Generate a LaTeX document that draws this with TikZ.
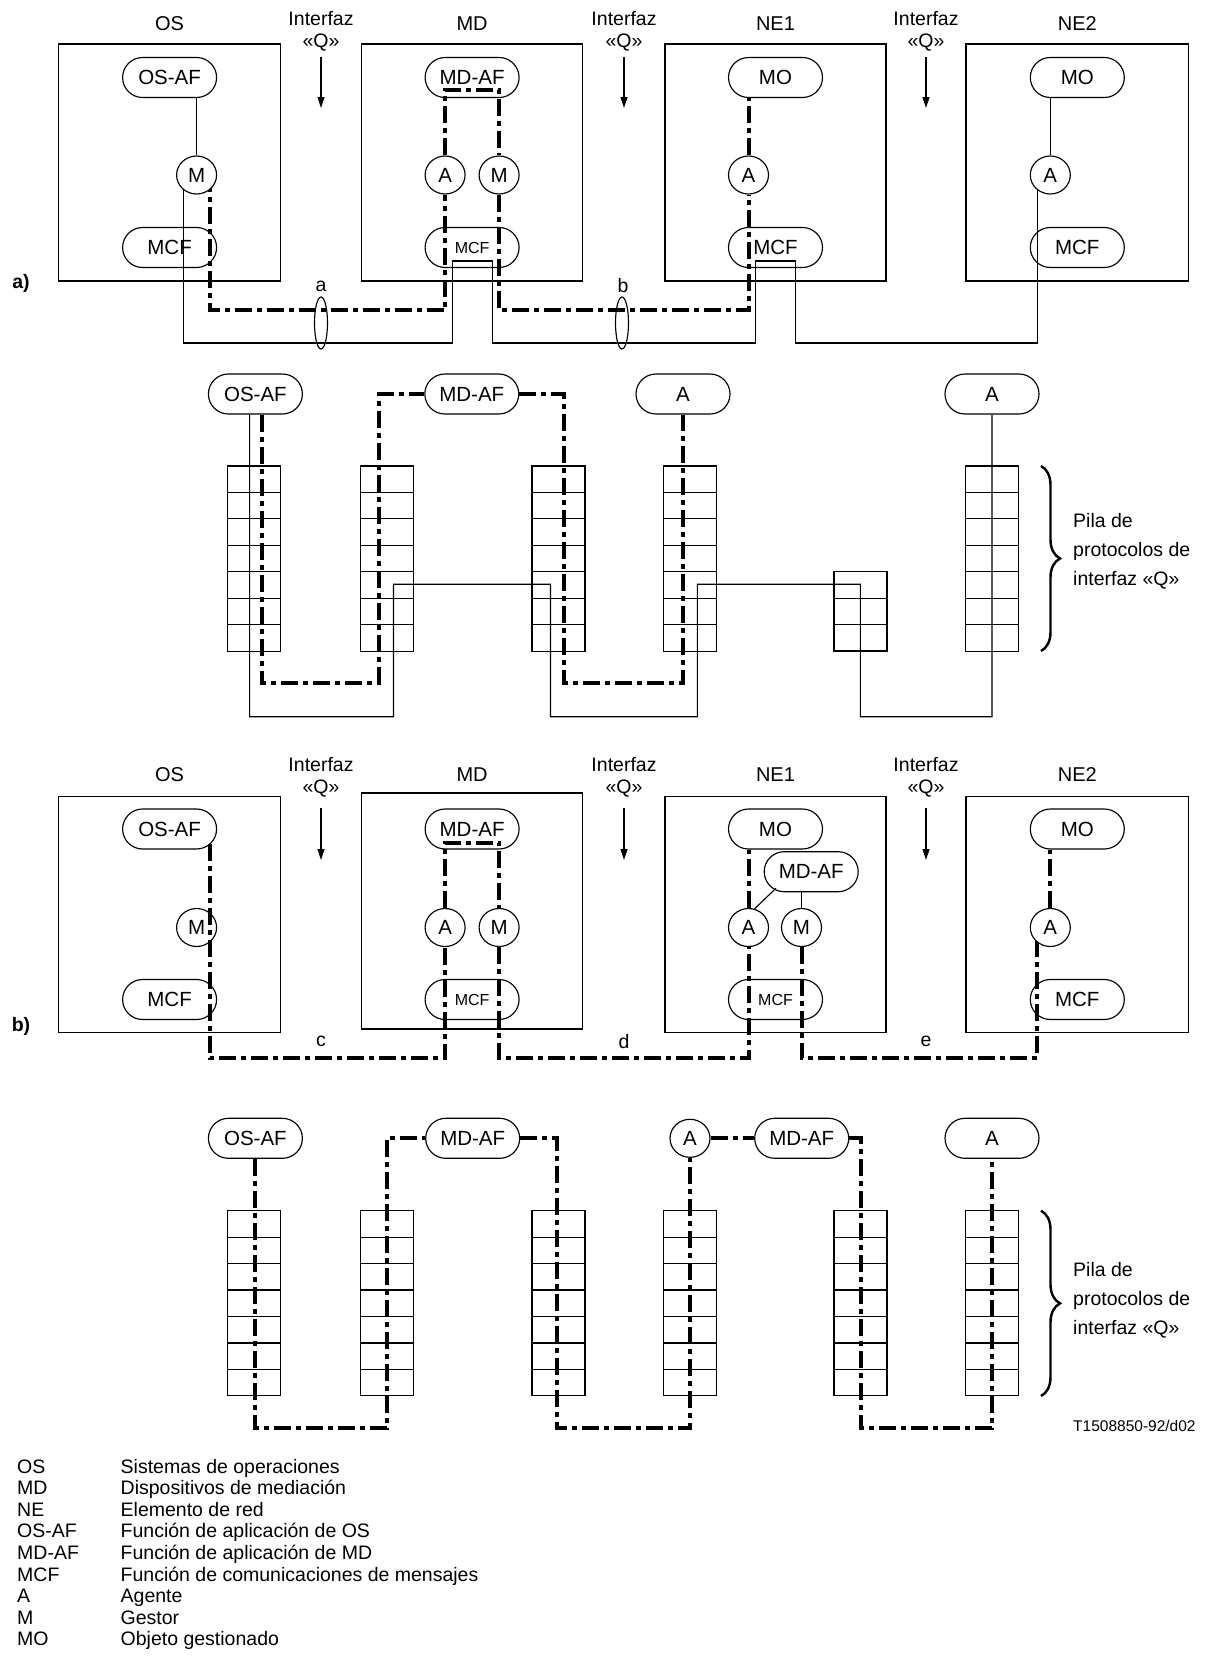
\documentclass[tikz,border=0pt]{standalone}
\usepackage{fontspec}
\setmainfont{Liberation Sans}
\usetikzlibrary{shapes.misc,shapes.geometric,backgrounds,calc,arrows.meta,decorations.pathreplacing}
\begin{document}
\begin{tikzpicture}[x=1pt,y=-1pt,
  every node/.style={font=\fontsize{19.5}{22}\selectfont},
  thinl/.style={line width=1.15pt},
  thickl/.style={line width=4pt, line join=miter, dash pattern=on 17pt off 5pt on 5pt off 5pt},
  pill/.style={rounded rectangle, draw, line width=1.15pt, minimum width=94pt, minimum height=40pt, inner sep=0pt, font=\fontsize{20.5}{22}\selectfont},
  circ/.style={ellipse, draw, line width=1.15pt, fill=white, minimum width=40pt, minimum height=38pt, inner sep=0pt, font=\fontsize{20.5}{22}\selectfont},
  smallf/.style={font=\fontsize{16}{18}\selectfont},
  arr/.style={line width=1.2pt, -{Triangle[length=11pt,width=7pt]}},
  iface/.style={align=center, font=\fontsize{19.5}{22}\selectfont},
  ttl/.style={font=\fontsize{20}{22}\selectfont},
  lbl/.style={anchor=base west, inner sep=0pt},
  bracel/.style={decorate, decoration={brace, amplitude=19pt, aspect=0.5}, line width=2.4pt},
]
\useasboundingbox (0,0) rectangle (1206,1670);

% ===================== a) top =====================
\draw[thinl] (58.5,44) rectangle (280.7,281);
\draw[thinl] (361.8,44) rectangle (582.4,281);
\draw[thinl] (665,44) rectangle (886,281);
\draw[thinl] (966,44) rectangle (1188.6,281);

\node[ttl] (tOSa) at (169.6,24) {OS};
\node[ttl] (tMDa) at (472.1,24) {MD};
\node[ttl] (tNE1a) at (775.5,24) {NE1};
\node[ttl] (tNE2a) at (1077.3,24) {NE2};

\node[iface] (ia1) at (321,31) {Interfaz\\«Q»};
\node[iface] (ia2) at (624,31) {Interfaz\\«Q»};
\node[iface] (ia3) at (926,31) {Interfaz\\«Q»};
\coordinate (qa1s) at (321,57); \coordinate (qa1e) at (321,108);
\coordinate (qa2s) at (624,57); \coordinate (qa2e) at (624,108);
\coordinate (qa3s) at (926,57); \coordinate (qa3e) at (926,108);
\draw[arr] (qa1s) -- (qa1e);
\draw[arr] (qa2s) -- (qa2e);
\draw[arr] (qa3s) -- (qa3e);

\node[pill] (OSAFa) at (169.6,77.5) {OS-AF};
\node[circ] (Ma) at (196.6,175) {M};
\node[pill] (MCFa1) at (169.6,247.5) {MCF};
\node[pill] (MDAFa) at (472.1,77.5) {MD-AF};
\node[circ] (MDAa) at (445.1,175) {A};
\node[circ] (MDMa) at (499.1,175) {M};
\node[pill,smallf] (MCFa2) at (472.1,247.5) {MCF};
\node[pill] (MOa1) at (775.5,77.5) {MO};
\node[circ] (NEAa1) at (748.5,175) {A};
\node[pill] (MCFa3) at (775.5,247.5) {MCF};
\node[pill] (MOa2) at (1077.3,77.5) {MO};
\node[circ] (NEAa2) at (1050.3,175) {A};
\node[pill] (MCFa4) at (1077.3,247.5) {MCF};

\node[font=\fontsize{19.5}{22}\selectfont\bfseries] (labA) at (21,283) {a)};
\node (la) at (321,286) {a};
\node (lb) at (623,286) {b};
\draw[thinl] (321,323) ellipse [x radius=6.5pt, y radius=26pt];
\draw[thinl] (622,323) ellipse [x radius=6.5pt, y radius=26pt];

% ===================== a) stacks =====================
\node[pill] (OSAFs) at (255.4,394) {OS-AF};
\node[pill] (MDAFs) at (471.8,394) {MD-AF};
\node[pill] (As1) at (683,394) {A};
\node[pill] (As2) at (992,394) {A};

% ===================== b) top =====================
\draw[thinl] (58.5,796.7) rectangle (280.7,1032.7);
\draw[thinl] (361.8,793) rectangle (582.4,1029);
\draw[thinl] (665,796.7) rectangle (886,1032.7);
\draw[thinl] (966,796.7) rectangle (1188.6,1032.7);

\node[ttl] (tOSb) at (169.6,775) {OS};
\node[ttl] (tMDb) at (472.1,775) {MD};
\node[ttl] (tNE1b) at (775.5,775) {NE1};
\node[ttl] (tNE2b) at (1077.3,775) {NE2};

\node[iface] (ib1) at (321,777) {Interfaz\\«Q»};
\node[iface] (ib2) at (624,777) {Interfaz\\«Q»};
\node[iface] (ib3) at (926,777) {Interfaz\\«Q»};
\coordinate (qb1s) at (321,808); \coordinate (qb1e) at (321,860);
\coordinate (qb2s) at (624,808); \coordinate (qb2e) at (624,860);
\coordinate (qb3s) at (926,808); \coordinate (qb3e) at (926,860);
\draw[arr] (qb1s) -- (qb1e);
\draw[arr] (qb2s) -- (qb2e);
\draw[arr] (qb3s) -- (qb3e);

\node[pill] (OSAFb) at (169.6,829) {OS-AF};
\node[circ] (Mb) at (196.6,927.5) {M};
\node[pill] (MCFb1) at (169.6,999.5) {MCF};
\node[pill] (MDAFb) at (472.1,829) {MD-AF};
\node[circ] (MDAb) at (445.1,927.5) {A};
\node[circ] (MDMb) at (499.1,927.5) {M};
\node[pill,smallf] (MCFb2) at (472.1,999.5) {MCF};
\node[pill] (MOb1) at (775.5,829) {MO};
\node[pill] (NEMDAF) at (811.2,871.7) {MD-AF};
\node[circ] (NEAb1) at (748.5,927.5) {A};
\node[circ] (NEMb1) at (801.5,927.5) {M};
\node[pill,smallf] (MCFb3) at (775.5,999.5) {MCF};
\node[pill] (MOb2) at (1077.3,829) {MO};
\node[circ] (NEAb2) at (1050.3,927.5) {A};
\node[pill] (MCFb4) at (1077.3,999.5) {MCF};

\node[font=\fontsize{19.5}{22}\selectfont\bfseries] (labB) at (21,1026) {b)};
\node (lc) at (321,1041.7) {c};
\node (ld) at (624,1041.7) {d};
\node (le) at (926,1041.7) {e};

% ===================== b) stacks =====================
\node[pill] (OSAFs2) at (255.4,1138.3) {OS-AF};
\node[pill] (MDAFs2) at (472.7,1138.3) {MD-AF};
\node[circ] (As3) at (690,1138.3) {A};
\node[pill] (MDAFs3) at (801.7,1138.3) {MD-AF};
\node[pill] (As5) at (992,1138.3) {A};

% protocol stacks
\foreach \xl/\yt/\n in {227.8/466/7, 360.6/466/7, 532/466/7, 663.3/466/7, 834/571.7/3, 965.7/466/7,
                        227.8/1210.7/7, 360.6/1210.7/7, 532/1210.7/7, 663.3/1210.7/7, 834/1210.7/7, 965.7/1210.7/7}{
  \draw[thinl] (\xl,\yt) rectangle ++(53,{26.45*\n});
  \foreach \k in {1,...,\n}{\draw[thinl] (\xl,{\yt+26.45*\k}) -- ++(53,0);}
}

% braces and stack labels
\coordinate (bra1) at (1041,466); \coordinate (bra2) at (1041,651);
\coordinate (brb1) at (1041,1210.7); \coordinate (brb2) at (1041,1396);
\draw[bracel] (bra1) -- (bra2);
\draw[bracel] (brb1) -- (brb2);
\node[lbl] (p1a) at (1073,527.5) {Pila de};
\node[lbl] (p1b) at (1073,556) {protocolos de};
\node[lbl] (p1c) at (1073,585) {interfaz «Q»};
\node[lbl] (p2a) at (1073,1276.5) {Pila de};
\node[lbl] (p2b) at (1073,1305.5) {protocolos de};
\node[lbl] (p2c) at (1073,1334.5) {interfaz «Q»};
\node[lbl, font=\fontsize{15.5}{18}\selectfont] (ref) at (1073,1431.5) {T1508850-92/d02};

% legend
\foreach \ab/\tx [count=\i from 0] in {OS/Sistemas de operaciones, MD/Dispositivos de mediación,
   NE/Elemento de red, OS-AF/Función de aplicación de OS, MD-AF/Función de aplicación de MD,
   MCF/Función de comunicaciones de mensajes, A/Agente, M/Gestor, MO/Objeto gestionado}{
  \node[lbl] (lga\i) at (17,{1473+21.6*\i}) {\ab};
  \node[lbl] (lgb\i) at (120.5,{1473+21.6*\i}) {\tx};
}

% foreground connector crossing the M circle (b)
\draw[thickl] ($(OSAFb)+(40,14.5)$) -- (209.6,1058.3) -- (445.1,1058.3) -- (MDAb.south);

% ===================== connectors (background) =====================
\begin{scope}[on background layer]
  % a) top, thin
  \draw[thinl] (OSAFa.south -| Ma) -- (Ma);
  \draw[thinl] ($(Ma)+(-13,0)$) -- (183.6,343) -- (452.7,343) -- (452.7,261) -- (492.3,261) -- (492.3,343)
     -- (755.8,343) -- (755.8,261) -- (795.2,261) -- (795.2,343) -- (1037.3,343) -- ($(NEAa2)+(-13,0)$);
  \draw[thinl] (MOa2.south -| NEAa2) -- (NEAa2);
  % a) top, thick
  \draw[thickl] ($(Ma)+(13,0)$) -- (209.6,310) -- (445.1,310) -- (MDAa);
  \draw[thickl] (MDAa) -- (445.1,90) -- (499.1,90) -- (MDMa);
  \draw[thickl] (MDMa) -- (499.1,310) -- (748.5,310) -- (NEAa1);
  \draw[thickl] (NEAa1) -- (MOa1.south -| NEAa1);
  % a) stacks
  \draw[thinl] ($(OSAFs.south)+(-5.8,0)$) -- (249.6,716.7) -- (393.5,716.7) -- (393.5,584.3) -- (550.5,584.3)
     -- (550.5,716.7) -- (697.4,716.7) -- (697.4,584.3) -- (860.4,584.3) -- (860.4,716.7) -- (992,716.7) -- (As2.south);
  \draw[thickl] ($(OSAFs.south)+(6.1,0)$) -- (261.5,682.7) -- (379,682.7) -- (379,394) -- (MDAFs.west);
  \draw[thickl] (MDAFs.east) -- (563.8,394) -- (563.8,682.7) -- (683,682.7) -- (As1.south);
  % b) top
  \draw[thickl] (MDAb) -- (445.1,842.5) -- (499.1,842.5) -- (MDMb);
  \draw[thickl] (MDMb) -- (499.1,1058.3) -- (748.5,1058.3) -- (NEAb1);
  \draw[thickl] (NEAb1) -- (MOb1.south -| NEAb1);
  \draw[thickl] (NEMb1) -- (801.5,1058.3) -- (1037.3,1058.3) -- ($(NEAb2)+(-13,0)$);
  \draw[thickl] (NEAb2) -- (MOb2.south -| NEAb2);
  \draw[thinl] ($(NEMDAF)+(-35.3,16.6)$) -- (NEAb1.72);
  \draw[thinl] (NEMDAF.south -| NEMb1) -- (NEMb1);
  % b) stacks
  \draw[thickl] (OSAFs2.south) -- (255.4,1428.3) -- (386.7,1428.3) -- (386.7,1138.3) -- (MDAFs2.west);
  \draw[thickl] (MDAFs2.east) -- (557,1138.3) -- (557,1428.3) -- (690,1428.3) -- (As3);
  \draw[thickl] (As3) -- (MDAFs3.west);
  \draw[thickl] (MDAFs3.east) -- (860.7,1138.3) -- (860.7,1428.3) -- (992,1428.3) -- (As5.south);
\end{scope}
\end{tikzpicture}
\end{document}
